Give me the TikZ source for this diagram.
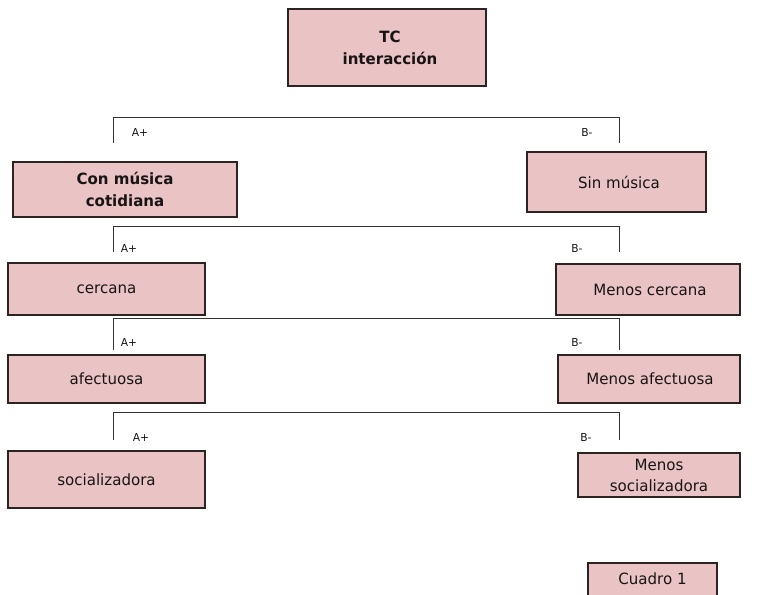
\documentclass[tikz,border=0pt]{standalone}
\usepackage{fontspec}
\setmainfont{DejaVu Sans}[FakeStretch=0.97]
\definecolor{boxfill}{RGB}{234,196,197}
\definecolor{boxline}{RGB}{45,35,35}
\definecolor{txt}{RGB}{25,20,20}
\tikzset{
  catbox/.style={draw=boxline, line width=1.2pt, fill=boxfill, inner sep=0pt, align=center, text=txt, font=\fontsize{15.5}{21}\selectfont},
  catboxb/.style={catbox, font=\bfseries\fontsize{15.5}{22}\selectfont},
  brk/.style={draw=black!80, line width=0.9pt},
  lbl/.style={font=\fontsize{11}{13}\selectfont, inner sep=0pt, text=txt}
}
\begin{document}
\begin{tikzpicture}[x=1pt,y=-1pt]
\useasboundingbox (0,0) rectangle (762,594);
\clip (0,0) rectangle (762,594);
% boxes
\draw[catbox] (288,9) rectangle (486,86);
\node[catboxb, draw=none, fill=none] (tc) at (390,48) {TC\\interacción};
\draw[catbox] (13,162) rectangle (237,217);
\node[catboxb, draw=none, fill=none] (con) at (125,189.5) {Con música\\cotidiana};
\draw[catbox] (527,152) rectangle (706,212);
\node[catbox, draw=none, fill=none] (sin) at (619,182) {Sin música};
\draw[catbox] (8,263) rectangle (205,315);
\node[catbox, draw=none, fill=none] (cer) at (106.5,289) {cercana};
\draw[catbox] (556,264) rectangle (740,315);
\node[catbox, draw=none, fill=none] (mcer) at (650,289.5) {Menos cercana};
\draw[catbox] (8,355) rectangle (205,403);
\node[catbox, draw=none, fill=none] (afe) at (106.5,379) {afectuosa};
\draw[catbox] (558,355) rectangle (740,403);
\node[catbox, draw=none, fill=none] (mafe) at (650,379) {Menos afectuosa};
\draw[catbox] (8,451) rectangle (205,508);
\node[catbox, draw=none, fill=none] (soc) at (106.5,479.5) {socializadora};
\draw[catbox] (578,453) rectangle (740,497);
\node[catbox, draw=none, fill=none] (msoc) at (659,475) {Menos\\socializadora};
\draw[catbox] (588,563) rectangle (717,610);
\node[catbox, draw=none, fill=none] (cua) at (652.5,579) {Cuadro 1};
% brackets
\foreach \yt/\yb/\n in {117/143/1, 226/252/2, 318/350/3, 412/440/4}{
  \coordinate (l\n) at (113,\yb);
  \coordinate (r\n) at (619,\yb);
  \coordinate (tl\n) at (113,\yt);
  \coordinate (tr\n) at (619,\yt);
  \draw[brk] (l\n) -- (tl\n) -- (tr\n) -- (r\n);
}
\node[lbl] (a1) at (140,132) {A+};
\node[lbl] (b1) at (587,132) {B-};
\node[lbl] (a2) at (129,248) {A+};
\node[lbl] (b2) at (577,248) {B-};
\node[lbl] (a3) at (129,342) {A+};
\node[lbl] (b3) at (577,342) {B-};
\node[lbl] (a4) at (141,437) {A+};
\node[lbl] (b4) at (586,437) {B-};
\end{tikzpicture}
\end{document}
